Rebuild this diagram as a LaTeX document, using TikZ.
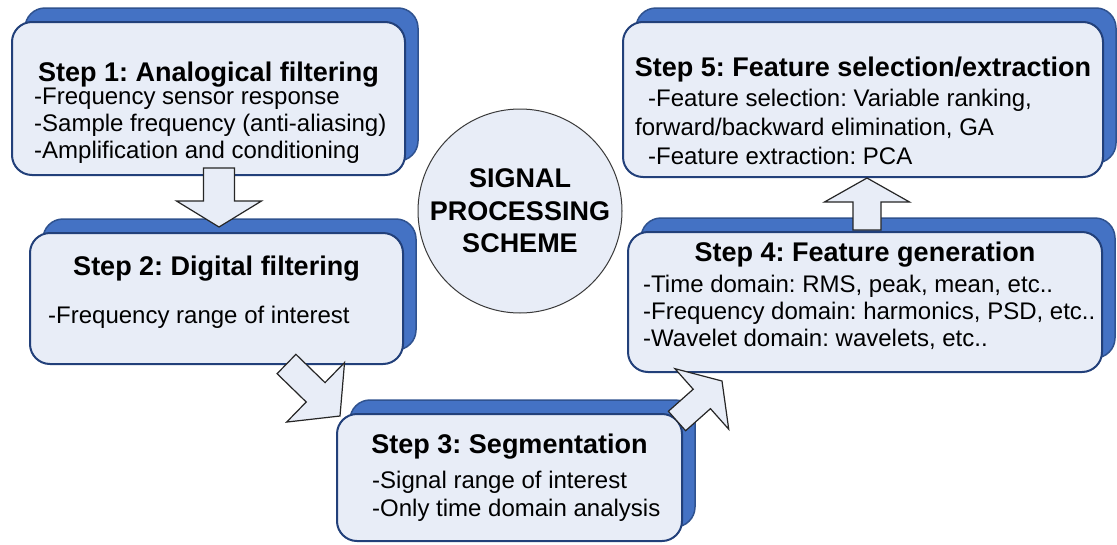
\documentclass[tikz,border=0pt]{standalone}
\usepackage{fontspec}
\setmainfont{Liberation Sans}
\usetikzlibrary{calc,shadows}
\frenchspacing

\definecolor{boxfill}{HTML}{E8EDF7}
\definecolor{boxedge}{HTML}{22407A}
\definecolor{shadowfill}{HTML}{4472C4}
\definecolor{shadowedge}{HTML}{2F528F}
\definecolor{arrowedge}{HTML}{262626}
\definecolor{circedge}{HTML}{3A3A3A}

\tikzset{
  stepbox/.style={draw=boxedge, line width=2pt, fill=boxfill, rounded corners=20pt,
    inner sep=0pt, outer sep=0pt,
    copy shadow={shadow xshift=13pt, shadow yshift=14pt, fill=shadowfill,
      draw=shadowedge, line width=1.5pt}},
  steptitle/.style={font=\fontsize{27}{30}\selectfont\bfseries, inner sep=0pt, anchor=base},
  stepitem/.style={font=\fontsize{24}{27}\selectfont, inner sep=0pt, anchor=base west},
  hubtext/.style={font=\fontsize{27}{30}\selectfont\bfseries, inner sep=0pt, anchor=base},
  fatarrow/.style={draw=arrowedge, fill=boxfill, line width=1.2pt, line join=miter},
}

% block arrow: #1 tail, #2 tip, #3 shaft half-width, #4 head half-width, #5 head length
\newcommand\fatarrowpath[5]{%
  \coordinate (hb) at ($(#2)!#5!(#1)$);
  \draw[fatarrow] ($(#1)!#3!90:(#2)$) -- ($(hb)!#3!90:(#2)$) -- ($(hb)!#4!90:(#2)$)
    -- (#2) -- ($(hb)!#4!-90:(#2)$) -- ($(hb)!#3!-90:(#2)$) -- ($(#1)!#3!-90:(#2)$) -- cycle;
}

\begin{document}
\begin{tikzpicture}[x=1pt, y=-1pt]
\useasboundingbox[fill=white] (0,0) rectangle (1117,544);

% step boxes
\node[stepbox, minimum width=393pt, minimum height=153pt] (s1) at (208.5,98.5) {};
\node[stepbox, minimum width=373pt, minimum height=131pt] (s2) at (216.5,298.5) {};
\node[stepbox, minimum width=345pt, minimum height=127pt] (s3) at (509.5,477.5) {};
\node[stepbox, minimum width=474pt, minimum height=140pt] (s4) at (865,302) {};
\node[stepbox, minimum width=480pt, minimum height=155pt] (s5) at (863,99.5) {};

% central circle
\node[circle, draw=circedge, line width=1pt, fill=boxfill, minimum size=204pt, inner sep=0pt] (hub) at (520,211) {};
\node[hubtext] (hub1) at (520,187) {SIGNAL};
\node[hubtext] (hub2) at (520,220) {PROCESSING};
\node[hubtext] (hub3) at (520,252) {SCHEME};

% step 1
\node[steptitle] (s1t) at (208.5,81) {Step 1: Analogical filtering};
\node[stepitem] (s1a) at (34,104) {-Frequency sensor response};
\node[stepitem] (s1b) at (34,131) {-Sample frequency (anti-aliasing)};
\node[stepitem] (s1c) at (34,158) {-Amplification and conditioning};

% step 2
\node[steptitle] (s2t) at (216.5,275) {Step 2: Digital filtering};
\node[stepitem] (s2a) at (48,323) {-Frequency range of interest};

% step 3
\node[steptitle] (s3t) at (509.5,453) {Step 3: Segmentation};
\node[stepitem] (s3a) at (372,488) {-Signal range of interest};
\node[stepitem] (s3b) at (372,516) {-Only time domain analysis};

% step 4
\node[steptitle] (s4t) at (865,261) {Step 4: Feature generation};
\node[stepitem] (s4a) at (643,292) {-Time domain: RMS, peak, mean, etc..};
\node[stepitem] (s4b) at (643,319) {-Frequency domain: harmonics, PSD, etc..};
\node[stepitem] (s4c) at (643,346) {-Wavelet domain: wavelets, etc..};

% step 5
\node[steptitle] (s5t) at (863,76) {Step 5: Feature selection/extraction};
\node[stepitem] (s5a) at (648,106) {-Feature selection: Variable ranking,};
\node[stepitem] (s5b) at (635,135) {forward/backward elimination, GA};
\node[stepitem] (s5c) at (648,164) {-Feature extraction: PCA};

% arrow ends
\coordinate (a1t) at ($(s1.south)+(10.5,-7)$);
\coordinate (a1h) at ($(s2.north)+(2.5,-6)$);
\coordinate (a2t) at ($(s2.south east)+(-116.5,0)$);
\coordinate (a2h) at ($(s3.north west)+(3,2)$);
\coordinate (a3t) at ($(s3.north east)+(-5,7)$);
\coordinate (a3h) at ($(s4.south west)+(94,9)$);
\coordinate (a4t) at ($(s4.north)+(2,-2)$);
\coordinate (a4h) at ($(s5.south)+(4,1)$);

% block arrows between the steps
\fatarrowpath{a1t}{a1h}{15.5pt}{42.5pt}{26pt}
\fatarrowpath{a2t}{a2h}{13.5pt}{41.5pt}{34pt}
\fatarrowpath{a3t}{a3h}{13pt}{40.5pt}{27pt}
\fatarrowpath{a4t}{a4h}{14pt}{42.5pt}{24pt}
\end{tikzpicture}
\end{document}
